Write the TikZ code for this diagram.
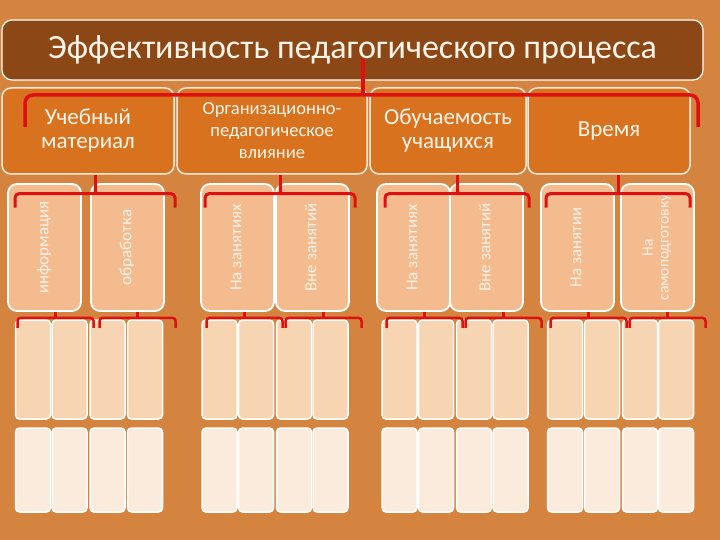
\documentclass[tikz,border=0pt]{standalone}
\usepackage{fontspec}
\setmainfont{Carlito}
\usepackage{graphicx}
\usetikzlibrary{positioning,calc}

\definecolor{woodbg}{HTML}{D4843F}
\definecolor{titlebrown}{HTML}{8C4716}
\definecolor{catorange}{HTML}{D9721E}
\definecolor{subpeach}{HTML}{F4BC8E}
\definecolor{cellpeach}{HTML}{F7D4B2}
\definecolor{celllight}{HTML}{FBEBDD}
\definecolor{bracered}{HTML}{DD1111}
\definecolor{textcream}{HTML}{FFF4E8}

\newcommand{\vtext}[1]{\rotatebox{90}{\begin{tabular}{@{}c@{}}#1\end{tabular}}}

\begin{document}
\begin{tikzpicture}[
  x=1pt, y=1pt,
  font=\fontsize{17}{19}\selectfont,
  titlebox/.style={draw=white, line width=1.2pt, rounded corners=10pt, fill=titlebrown, text=textcream, minimum width=701pt, minimum height=60pt, font=\fontsize{34}{36}\selectfont},
  catbox/.style={draw=white!85!catorange, line width=1.5pt, rounded corners=9pt, fill=catorange, text=textcream, align=center, minimum height=86pt, inner sep=2pt, font=\fontsize{23}{24}\selectfont},
  subbox/.style={draw=white, line width=1.8pt, rounded corners=9pt, fill=subpeach, text=white!80!subpeach, minimum width=73pt, minimum height=127pt, inner sep=1pt},
  cella/.style={draw=white, line width=1.5pt, rounded corners=4pt, fill=cellpeach, minimum width=35pt, minimum height=99pt},
  cellb/.style={draw=white, line width=1.5pt, rounded corners=4pt, fill=celllight, minimum width=35pt, minimum height=84pt},
  brace/.style={draw=bracered, line width=3pt, rounded corners=4pt}
]
\useasboundingbox (0,0) rectangle (720,-540);
\fill[woodbg] (0,0) rectangle (720,-540);

\node[titlebox] (title) at (352.5,-50) {Эффективность педагогического процесса};

\node[catbox, minimum width=172pt] (um) at (88,-131) {Учебный\\материал};
\node[catbox, minimum width=190pt, font=\fontsize{18.5}{22}\selectfont] (opv) at (272,-131) {Организационно-\\педагогическое\\влияние};
\node[catbox, minimum width=156pt] (ou) at (448,-131) {Обучаемость\\учащихся};
\node[catbox, minimum width=162pt] (vr) at (609,-131) {Время};

\node[subbox] (info) at (44.5,-247.5) {\vtext{информация}};
\node[subbox] (obr) at (127.5,-247.5) {\vtext{обработка}};
\node[subbox] (nzA) at (237.5,-247.5) {\vtext{На занятиях}};
\node[subbox] (vzA) at (312.5,-247.5) {\vtext{Вне занятий}};
\node[subbox] (nzB) at (413.5,-247.5) {\vtext{На занятиях}};
\node[subbox] (vzB) at (486.5,-247.5) {\vtext{Вне занятий}};
\node[subbox] (nzV) at (577.5,-247.5) {\vtext{На занятии}};
\node[subbox, font=\fontsize{15.5}{16}\selectfont] (sp) at (657.5,-247.5) {\vtext{На\\самоподготовку}};

% cells
\foreach \cx [count=\i] in {33,69.5,107.5,145,219.5,256,294,330.5,399.5,436,474,510.5,565,602,640,676}{
  \node[cella] (ca\i) at (\cx,-369.5) {};
  \node[cellb] (cb\i) at (\cx,-470) {};
}

% top bracket
\draw[brace, line width=3.5pt] ([xshift=10.5pt, yshift=22pt]title.south) -- ([xshift=10.5pt, yshift=-15pt]title.south);
\draw[brace, line width=3.5pt, rounded corners=8pt] (25,-127) |- (698,-95) -- (698,-127);

% category brackets
\foreach \cat/\dx/\hw in {um/7/80, opv/8/75, ou/9/72, vr/9/72}{
  \draw[brace] ([xshift=\dx]\cat.south) -- ++(0,-19);
  \draw[brace] ([xshift=\dx-\hw, yshift=-33pt]\cat.south) |- ([xshift=\dx+\hw, yshift=-19pt]\cat.south) -- ++(0,-14);
}

% sub brackets
\foreach \sb/\dx in {info/11, obr/10, nzA/7, vzA/11, nzB/11, vzB/17, nzV/11, sp/10}{
  \draw[brace, line width=2.5pt] ([xshift=\dx]\sb.south) -- ++(0,-6);
  \draw[brace, line width=2.5pt, rounded corners=3pt] ([xshift=\dx-38, yshift=-16pt]\sb.south) |- ([xshift=\dx+38, yshift=-6pt]\sb.south) -- ++(0,-10);
}
\end{tikzpicture}
\end{document}
